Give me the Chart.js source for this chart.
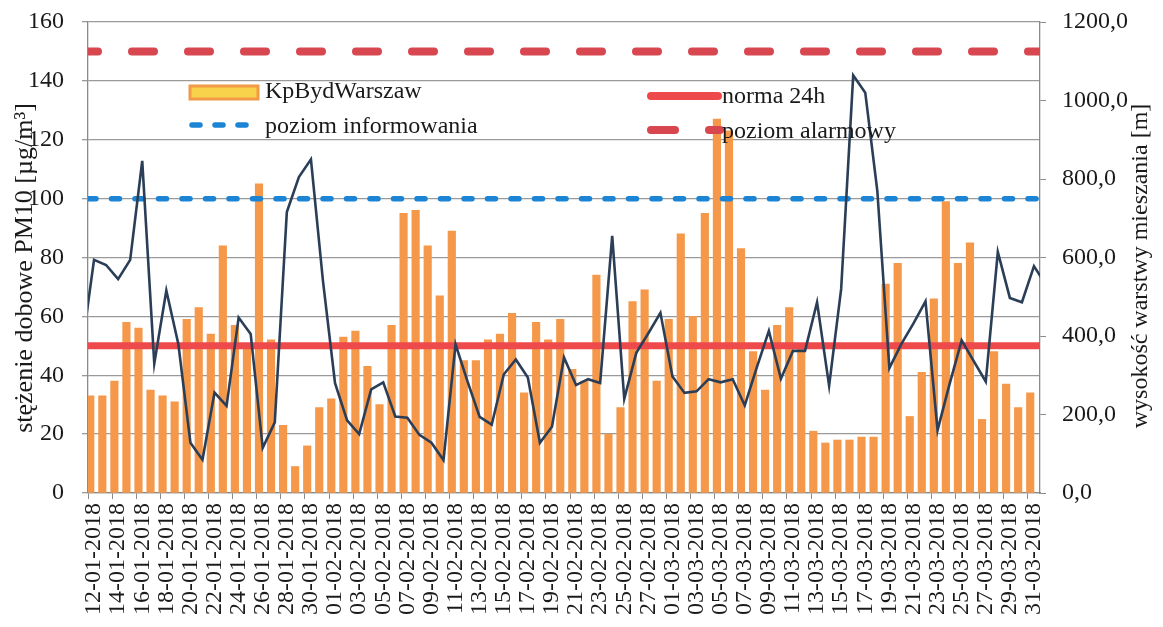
<!DOCTYPE html>
<html lang="pl">
<head>
<meta charset="utf-8">
<title>PM10 - KpBydWarszaw</title>
<script src="https://cdn.jsdelivr.net/npm/chart.js@4.4.1/dist/chart.umd.min.js"></script>
<style>
  html, body { margin: 0; padding: 0; background: #fff; }
  #wrap { width: 1163px; height: 627px; }
</style>
</head>
<body>
<div id="wrap"><canvas id="pm10Chart" width="1163" height="627"></canvas></div>
<script>
// === DANE ===
// dni od 12-01-2018 do 31-03-2018
const dni = [];
for (let d = new Date(2018, 0, 12); d <= new Date(2018, 2, 31); d.setDate(d.getDate() + 1)) {
    const dd = String(d.getDate()).padStart(2, '0');
    const mm = String(d.getMonth() + 1).padStart(2, '0');
    dni.push(`${dd}-${mm}-${d.getFullYear()}`);
}

// stężenie dobowe PM10 [µg/m3] - stacja KpBydWarszaw
const pm10 = [33, 33, 38, 58, 56, 35, 33, 31, 59, 63,
              54, 84, 57, 50, 105, 52, 23, 9, 16, 29,
              32, 53, 55, 43, 30, 57, 95, 96, 84, 67,
              89, 45, 45, 52, 54, 61, 34, 58, 52, 59,
              42, 38, 74, 20, 29, 65, 69, 38, 59, 88,
              60, 95, 127, 123, 83, 48, 35, 57, 63, 49,
              21, 17, 18, 18, 19, 19, 71, 78, 26, 41,
              66, 99, 78, 85, 25, 48, 37, 29, 34];

// wysokość warstwy mieszania [m]
const warstwaMieszania = [594, 581, 545, 594, 846, 330, 516, 379, 128, 85,
                          256, 222, 447, 405, 115, 180, 716, 805, 850, 540,
                          280, 185, 150, 264, 282, 195, 192, 148, 128, 84,
                          379, 284, 194, 174, 302, 340, 294, 128, 169, 345,
                          275, 290, 280, 655, 240, 357, 407, 459, 297, 255,
                          259, 290, 282, 290, 223, 320, 413, 291, 362, 362,
                          486, 273, 520, 1064, 1020, 770, 318, 380, 432, 488,
                          160, 278, 389, 336, 284, 614, 497, 486, 578];
// wartości dzień przed i dzień po (linia ucięta na krawędziach)
const warstwaPrzed = 370;
const warstwaPo = 530;

// poziomy odniesienia PM10
const normaDobowa = 50;
const poziomInformowania = 100;
const poziomAlarmowy = 150;

const osLewa = { min: 0, max: 160, krok: 20 };
const osPrawa = { min: 0, max: 1200, krok: 200 };

// === PUNKTY DLA LINII ===
const punktyWarstwy = [{ x: -1, y: warstwaPrzed }]
    .concat(warstwaMieszania.map((v, i) => ({ x: i, y: v })))
    .concat([{ x: warstwaMieszania.length, y: warstwaPo }]);

const xMin = -0.5, xMax = dni.length - 0.5;
const linia = v => [{ x: xMin, y: v }, { x: xMax, y: v }];

const SERIF = "'Liberation Serif', 'Times New Roman', serif";

// === LEGENDA I TYTUŁY OSI (rysowane ręcznie) ===
const dodatki = {
    id: 'dodatki',
    afterDatasetsDraw(chart) {
        const { ctx, chartArea: a } = chart;
        ctx.save();
        ctx.font = `24px ${SERIF}`;
        ctx.fillStyle = '#1a1a1a';
        ctx.textBaseline = 'middle';
        ctx.textAlign = 'left';

        // KpBydWarszaw
        ctx.fillStyle = '#f7d24a';
        ctx.strokeStyle = '#f29a45';
        ctx.lineWidth = 3;
        ctx.fillRect(a.left + 102, a.top + 64, 68, 13);
        ctx.strokeRect(a.left + 102, a.top + 64, 68, 13);
        ctx.fillStyle = '#1a1a1a';
        ctx.fillText(chart.data.datasets[0].label, a.left + 177, a.top + 70);

        // poziom informowania
        ctx.setLineDash([8, 15]);
        ctx.lineCap = 'round';
        ctx.lineWidth = 5.5;
        ctx.strokeStyle = '#1b84d4';
        ctx.beginPath();
        ctx.moveTo(a.left + 104, a.top + 103);
        ctx.lineTo(a.left + 168, a.top + 103);
        ctx.stroke();
        ctx.fillText(chart.data.datasets[2].label, a.left + 177, a.top + 105);

        // norma 24h
        ctx.setLineDash([]);
        ctx.lineWidth = 8;
        ctx.strokeStyle = '#ee4a4c';
        ctx.beginPath();
        ctx.moveTo(a.left + 563, a.top + 74);
        ctx.lineTo(a.left + 630, a.top + 74);
        ctx.stroke();
        ctx.fillText(chart.data.datasets[1].label, a.left + 634, a.top + 75);

        // poziom alarmowy
        ctx.setLineDash([24, 34]);
        ctx.lineWidth = 8;
        ctx.strokeStyle = '#d8464f';
        ctx.beginPath();
        ctx.moveTo(a.left + 563, a.top + 108);
        ctx.lineTo(a.left + 632, a.top + 108);
        ctx.stroke();
        ctx.fillText(chart.data.datasets[3].label, a.left + 634, a.top + 110);

        // tytuły osi
        ctx.setLineDash([]);
        ctx.textAlign = 'center';
        ctx.save();
        ctx.font = `26px ${SERIF}`;
        ctx.translate(25, 268);
        ctx.rotate(-Math.PI / 2);
        ctx.fillText('stężenie dobowe PM10 [µg/m³]', 0, 0);
        ctx.restore();
        ctx.translate(1141, 266);
        ctx.rotate(-Math.PI / 2);
        ctx.fillText('wysokość warstwy mieszania [m]', 0, 0);
        ctx.restore();
    }
};

// === WYKRES ===
new Chart(document.getElementById('pm10Chart'), {
    type: 'bar',
    data: {
        labels: dni,
        datasets: [
            {
                label: 'KpBydWarszaw',
                data: pm10,
                backgroundColor: '#f5984a',
                borderWidth: 0,
                barThickness: 7.5,
                xAxisID: 'x',
                yAxisID: 'y',
                order: 3
            },
            {
                type: 'line',
                label: 'norma 24h',
                data: linia(normaDobowa),
                borderColor: '#ee4a4c',
                borderWidth: 7,
                pointRadius: 0,
                xAxisID: 'xl',
                yAxisID: 'y',
                clip: 0,
                order: 2
            },
            {
                type: 'line',
                label: 'poziom informowania',
                data: linia(poziomInformowania),
                borderColor: '#1b84d4',
                borderWidth: 5.5,
                borderDash: [8, 15.5],
                borderCapStyle: 'round',
                pointRadius: 0,
                xAxisID: 'xl',
                yAxisID: 'y',
                clip: 0,
                order: 2
            },
            {
                type: 'line',
                label: 'poziom alarmowy',
                data: linia(poziomAlarmowy),
                borderColor: '#d8464f',
                borderWidth: 8,
                borderDash: [22, 34],
                borderDashOffset: 12,
                borderCapStyle: 'round',
                pointRadius: 0,
                xAxisID: 'xl',
                yAxisID: 'y',
                clip: 0,
                order: 2
            },
            {
                type: 'line',
                label: 'wysokość warstwy mieszania',
                data: punktyWarstwy,
                borderColor: '#2b3e58',
                borderWidth: 2.6,
                pointRadius: 0,
                tension: 0,
                xAxisID: 'xl',
                yAxisID: 'y2',
                clip: 0,
                order: 1
            }
        ]
    },
    options: {
        responsive: false,
        devicePixelRatio: 1,
        animation: false,
        layout: { padding: { top: 22, left: 0, right: 0, bottom: 0 } },
        plugins: {
            legend: { display: false },
            tooltip: { enabled: false }
        },
        scales: {
            x: {
                type: 'category',
                offset: true,
                afterFit(scale) {
                    scale.height = 134;
                    scale.paddingLeft = 0;
                    scale.paddingRight = 0;
                },
                grid: {
                    drawOnChartArea: false,
                    offset: true,
                    tickLength: 6,
                    color: ctx => (ctx.index % 2 === 0 ? '#8a8a8a' : 'rgba(0,0,0,0)')
                },
                border: { color: '#8a8a8a', width: 1.3 },
                ticks: {
                    autoSkip: false,
                    maxRotation: 90,
                    minRotation: 90,
                    padding: 4,
                    color: '#1a1a1a',
                    font: { family: SERIF, size: 24 },
                    callback: (v, i) => (i % 2 === 0 ? dni[i] : '')
                }
            },
            xl: {
                type: 'linear',
                display: false,
                offset: false,
                bounds: 'ticks',
                min: xMin,
                max: xMax
            },
            y: {
                position: 'left',
                min: osLewa.min,
                max: osLewa.max,
                afterFit(scale) {
                    scale.width = 88;
                    scale.paddingTop = 0;
                    scale.paddingBottom = 0;
                },
                grid: { color: '#9a9a9a', lineWidth: 1.3, tickLength: 6 },
                border: { color: '#8a8a8a', width: 1.3 },
                ticks: {
                    stepSize: osLewa.krok,
                    padding: 18,
                    color: '#1a1a1a',
                    font: { family: SERIF, size: 24 }
                }
            },
            y2: {
                position: 'right',
                min: osPrawa.min,
                max: osPrawa.max,
                afterFit(scale) {
                    scale.width = 123;
                    scale.paddingTop = 0;
                    scale.paddingBottom = 0;
                },
                grid: { drawOnChartArea: false, color: '#8a8a8a', tickLength: 6 },
                border: { color: '#8a8a8a', width: 1.3 },
                ticks: {
                    stepSize: osPrawa.krok,
                    padding: 16,
                    color: '#1a1a1a',
                    font: { family: SERIF, size: 24 },
                    callback: v => v.toFixed(1).replace('.', ',')
                }
            }
        }
    },
    plugins: [dodatki]
});
</script>
</body>
</html>
